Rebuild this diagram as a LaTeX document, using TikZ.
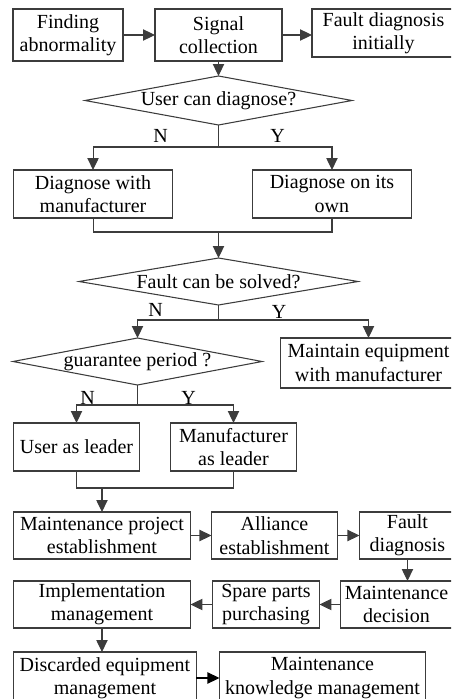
\documentclass[tikz,border=0pt]{standalone}
\usepackage{fontspec}
\setmainfont{Liberation Serif}
\usepackage{tikz}
\usetikzlibrary{shapes, positioning, calc, arrows.meta}
\definecolor{linegray}{HTML}{3C3C3C}

\begin{document}
\begin{tikzpicture}[box/.style={rectangle, 
      draw=linegray, 
      line width=0.8pt, 
      minimum width=#1, 
      minimum height=35.25pt, 
      inner sep=0pt, 
      outer sep=0pt, 
      align=center, 
      font=\fontsize{15pt}{17.5pt}\selectfont},
    decision/.style={diamond, 
      draw=linegray, 
      line width=0.8pt, 
      shape aspect=5.5, 
      inner sep=0pt, 
      outer sep=0pt, 
      font=\fontsize{15pt}{17.5pt}\selectfont},
    answer/.style={inner sep=0pt, 
      outer sep=0pt, 
      font=\fontsize{15pt}{17.5pt}\selectfont},
    flow/.style={draw=linegray, 
      line width=0.8pt, 
      -{Triangle[length=9pt, width=8.5pt]}},
    link/.style={draw=linegray, line width=0.8pt}]

  \useasboundingbox (0,0) rectangle (338.25pt,-524.25pt);
  \clip (0,0) rectangle (338.25pt,-524.25pt);

  % DETECTION

  \node [box=82.5pt, 
    minimum height=39pt, 
    anchor=north west] (finding) at (9.75pt,-6.75pt) {Finding\\abnormality};

  \node [box=95.25pt, 
    minimum height=39pt, 
    right=24pt of finding] (signal) {Signal\\collection};

  \node [box=107.25pt, 
    minimum height=36pt, 
    right=22.5pt of signal.north east, 
    anchor=north west] (initial) {Fault diagnosis\\initially};

  \draw [flow] (finding) -- (signal);
  \draw [flow] (signal.east) -- (signal.east -| initial.west);

  % WHO DIAGNOSES

  \node [decision, 
    minimum width=200.25pt, 
    minimum height=36.75pt, 
    below=11.25pt of signal] (user) {User can diagnose?};
  \draw [flow] (signal) -- (user);

  \coordinate [below=16.5pt of user.south] (userfork);
  \node [answer, above=3.3pt of userfork, xshift=-43.5pt] (usern) {N};
  \node [answer, above=3.3pt of userfork, xshift=44.25pt] (usery) {Y};

  \node [box=119.25pt, 
    minimum height=36pt, 
    below=17.25pt of userfork, 
    xshift=-94.1pt] (withmf) {Diagnose with\\manufacturer};

  \node [box=119.25pt, 
    minimum height=36pt, 
    below=17.25pt of userfork, 
    xshift=85.1pt] (ownself) {Diagnose on its\\own};

  \draw [link] (user.south) -- (userfork);
  \draw [flow] (userfork) -| (withmf);
  \draw [flow] (userfork) -| (ownself);

  \coordinate [below=10.5pt of withmf.south] (userjoin);
  \draw [link] (withmf.south) -- (userjoin) -| (ownself.south);
  \coordinate (solvedtop) at (userjoin -| user.south);

  % SOLVING

  \node [decision, 
    minimum width=209.25pt, 
    minimum height=35.25pt, 
    below=19.5pt of solvedtop] (solved) {Fault can be solved?};
  \draw [flow] (solvedtop) -- (solved);

  \coordinate [below=11.25pt of solved.south] (solvedfork);
  \node [answer, above=2.5pt of solvedfork, xshift=-47.25pt] (solvedn) {N};
  \node [answer, above=1pt of solvedfork, xshift=45.4pt] (solvedy) {Y};

  \node [decision, 
    minimum width=186.75pt, 
    minimum height=35.25pt, 
    below=13.5pt of solvedfork, 
    xshift=-60.75pt] (guarantee) {guarantee period ?};

  \node [box=132pt, 
    minimum height=37.5pt, 
    below=13.5pt of solvedfork, 
    xshift=112.5pt] (maintain) {Maintain equipment\\with manufacturer};

  \draw [link] (solved.south) -- (solvedfork);
  \draw [flow] (solvedfork) -| (guarantee);
  \draw [flow] (solvedfork) -| (maintain);

  \coordinate [below=15pt of guarantee.south] (guarfork);
  \node [answer, above=0.3pt of guarfork, xshift=-37.5pt] (guarn) {N};
  \node [answer, above=0.3pt of guarfork, xshift=38.25pt] (guary) {Y};

  \node [box=94.5pt, 
    minimum height=36pt, 
    below=13.5pt of guarfork, 
    xshift=-45.75pt] (userlead) {User as leader};

  \node [box=94.5pt, 
    minimum height=36pt, 
    below=13.5pt of guarfork, 
    xshift=72pt] (mflead) {Manufacturer\\as leader};

  \draw [link] (guarantee.south) -- (guarfork);
  \draw [flow] (guarfork) -| (userlead);
  \draw [flow] (guarfork) -| (mflead);

  \coordinate [below=12.75pt of userlead.south] (leadjoin);
  \draw [link] (userlead.south) -- (leadjoin) -| (mflead.south);

  % MAINTENANCE PROJECT

  \node [box=132.75pt, 
    below=18pt of leadjoin, 
    xshift=19.1pt] (project) {Maintenance project\\establishment};
  \draw [flow] (leadjoin -| project) -- (project);

  \node [box=94.5pt, right=15.75pt of project] (alliance) {Alliance\\establishment};
  \node [box=72pt, right=16.5pt of alliance] (faultdiag) {Fault\\diagnosis};

  \node [box=84pt, 
    below=16.5pt of faultdiag, 
    xshift=-8.25pt] (decision) {Maintenance\\decision};

  \node [box=80.25pt, left=15.75pt of decision] (spare) {Spare parts\\purchasing};
  \node [box=132.75pt, left=16.5pt of spare] (implement) {Implementation\\management};

  \node [box=137.25pt, 
    minimum height=39pt, 
    below=18pt of implement, 
    xshift=2.25pt] (discard) {Discarded equipment\\management};

  \node [box=154.5pt, 
    minimum height=39pt, 
    right=17.25pt of discard] (knowledge) {Maintenance\\knowledge management};

  \draw [flow] (project) -- (alliance);
  \draw [flow] (alliance) -- (faultdiag);
  \draw [flow] (faultdiag) -- (faultdiag |- decision.north);
  \draw [flow] (decision) -- (spare);
  \draw [flow] (spare) -- (implement);
  \draw [flow] (implement) -- (implement |- discard.north);
  \draw [flow, draw=black] (discard) -- (knowledge);

\end{tikzpicture}
\end{document}
